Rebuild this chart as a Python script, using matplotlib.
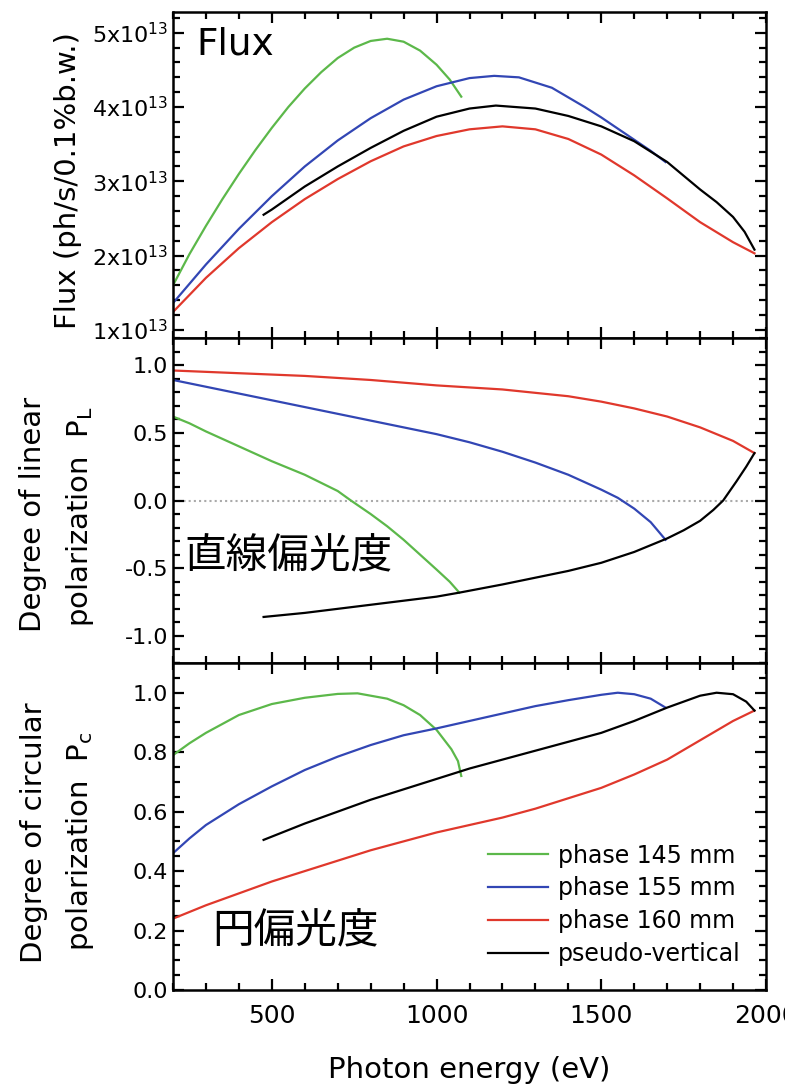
import numpy as np
import matplotlib
matplotlib.use('Agg')
from matplotlib import pyplot as plt
from matplotlib.ticker import MultipleLocator

# photon energy (eV) and values for each undulator setting
# flux in units of 1e13 ph/s/0.1%b.w.
e_145_f = [200, 250, 300, 350, 400, 450, 500, 550, 600, 650, 700, 750, 800,
           850, 900, 950, 1000, 1040, 1075]
flux_145 = [1.60, 2.02, 2.40, 2.76, 3.10, 3.42, 3.72, 4.00, 4.25, 4.47, 4.66,
            4.80, 4.89, 4.92, 4.88, 4.76, 4.57, 4.37, 4.14]

e_155_f = [200, 300, 400, 500, 600, 700, 800, 900, 1000, 1100, 1175, 1250,
           1350, 1450, 1500, 1550, 1600, 1650, 1695]
flux_155 = [1.36, 1.88, 2.36, 2.80, 3.20, 3.55, 3.85, 4.10, 4.28, 4.39, 4.42,
            4.40, 4.26, 4.00, 3.86, 3.71, 3.56, 3.41, 3.26]

e_160_f = [200, 300, 400, 500, 600, 700, 800, 900, 1000, 1100, 1200, 1300,
           1400, 1500, 1600, 1700, 1800, 1900, 1965]
flux_160 = [1.24, 1.70, 2.10, 2.45, 2.76, 3.03, 3.27, 3.47, 3.61, 3.70, 3.74,
            3.70, 3.57, 3.36, 3.08, 2.77, 2.45, 2.18, 2.03]

e_pv_f = [475, 500, 600, 700, 800, 900, 1000, 1100, 1180, 1300, 1400, 1500,
          1600, 1700, 1800, 1850, 1900, 1935, 1965]
flux_pv = [2.55, 2.62, 2.93, 3.20, 3.45, 3.68, 3.87, 3.98, 4.02, 3.98, 3.88,
           3.74, 3.54, 3.26, 2.89, 2.72, 2.52, 2.32, 2.08]

# degree of linear polarization
e_145_l = [200, 250, 300, 400, 500, 600, 700, 740, 800, 850, 900, 950, 1000,
           1040, 1069]
pl_145 = [0.62, 0.57, 0.51, 0.40, 0.29, 0.19, 0.07, 0.0, -0.10, -0.19,
          -0.29, -0.40, -0.51, -0.60, -0.68]

e_155_l = [200, 300, 400, 500, 600, 700, 800, 900, 1000, 1100, 1200, 1300,
           1400, 1500, 1550, 1600, 1650, 1695]
pl_155 = [0.89, 0.84, 0.79, 0.74, 0.69, 0.64, 0.59, 0.54, 0.49, 0.43, 0.36,
          0.28, 0.19, 0.08, 0.02, -0.06, -0.16, -0.29]

e_160_l = [200, 400, 600, 800, 1000, 1200, 1400, 1500, 1600, 1700, 1800,
           1850, 1900, 1965]
pl_160 = [0.96, 0.94, 0.92, 0.89, 0.85, 0.82, 0.77, 0.73, 0.68, 0.62, 0.54,
          0.49, 0.44, 0.35]

e_pv_l = [475, 600, 700, 800, 900, 1000, 1070, 1200, 1300, 1400, 1500, 1600,
          1700, 1750, 1800, 1840, 1870, 1910, 1940, 1965]
pl_pv = [-0.86, -0.83, -0.80, -0.77, -0.74, -0.71, -0.68, -0.62, -0.57,
         -0.52, -0.46, -0.38, -0.28, -0.22, -0.15, -0.07, 0.0, 0.14, 0.25,
         0.35]

# degree of circular polarization
e_145_c = [200, 250, 300, 400, 500, 600, 700, 760, 850, 900, 950, 1000, 1045,
           1065, 1075]
pc_145 = [0.79, 0.83, 0.865, 0.925, 0.962, 0.983, 0.996, 0.998, 0.98, 0.958,
          0.925, 0.875, 0.81, 0.77, 0.72]

e_155_c = [200, 250, 300, 400, 500, 600, 700, 800, 900, 1000, 1100, 1200,
           1300, 1400, 1500, 1550, 1600, 1650, 1695]
pc_155 = [0.46, 0.51, 0.555, 0.625, 0.685, 0.74, 0.785, 0.824, 0.857, 0.88,
          0.905, 0.93, 0.955, 0.975, 0.993, 1.0, 0.995, 0.98, 0.95]

e_160_c = [200, 300, 400, 500, 600, 700, 800, 900, 1000, 1100, 1200, 1300,
           1400, 1500, 1600, 1700, 1800, 1900, 1965]
pc_160 = [0.24, 0.285, 0.325, 0.365, 0.40, 0.435, 0.47, 0.50, 0.53, 0.555,
          0.58, 0.61, 0.645, 0.68, 0.725, 0.775, 0.84, 0.905, 0.94]

e_pv_c = [475, 600, 700, 800, 900, 1000, 1100, 1200, 1300, 1400, 1500, 1600,
          1700, 1750, 1800, 1850, 1900, 1940, 1965]
pc_pv = [0.505, 0.56, 0.60, 0.64, 0.675, 0.71, 0.745, 0.775, 0.805, 0.835,
         0.865, 0.905, 0.95, 0.97, 0.99, 1.0, 0.995, 0.97, 0.94]

labels = ['phase 145 mm', 'phase 155 mm', 'phase 160 mm', 'pseudo-vertical']
colors = ['#5cb84a', '#3246b4', '#e0382c', 'black']

flux_ticks = [1, 2, 3, 4, 5]

plt.rcParams['font.family'] = ['DejaVu Sans']
plt.rcParams['mathtext.default'] = 'regular'
plt.rcParams['axes.unicode_minus'] = False

W, H = 785, 1089
fig = plt.figure(figsize=(W / 100, H / 100), dpi=100)

x0, x1 = 173, 766
edges = [12, 338, 663, 990]
axes = []
for top, bot in zip(edges[:-1], edges[1:]):
    ax = fig.add_axes([x0 / W, 1 - bot / H, (x1 - x0) / W, (bot - top) / H])
    axes.append(ax)
ax1, ax2, ax3 = axes

flux = [(e_145_f, flux_145), (e_155_f, flux_155), (e_160_f, flux_160),
        (e_pv_f, flux_pv)]
lin = [(e_145_l, pl_145), (e_155_l, pl_155), (e_160_l, pl_160),
       (e_pv_l, pl_pv)]
circ = [(e_145_c, pc_145), (e_155_c, pc_155), (e_160_c, pc_160),
        (e_pv_c, pc_pv)]

for (ef, fl), (el, pl), (ec, pc), c, lab in zip(flux, lin, circ, colors, labels):
    ax1.plot(ef, np.array(fl) * 1e13, color=c, lw=1.6)
    ax2.plot(el, pl, color=c, lw=1.6)
    ax3.plot(ec, pc, color=c, lw=1.6, label=lab)

ax2.axhline(0, color='#aaaaaa', lw=1.5, ls=(0, (1, 1.5)), zorder=0)

for ax in axes:
    ax.set_xlim(200, 2000)
    ax.xaxis.set_major_locator(MultipleLocator(500))
    ax.xaxis.set_minor_locator(MultipleLocator(100))
    ax.tick_params(which='both', direction='in', top=True, right=True,
                   width=1.6)
    ax.tick_params(which='major', length=8)
    ax.tick_params(which='minor', length=5)
    ax.tick_params(axis='y', labelsize=16)
    ax.tick_params(axis='x', labelsize=18, pad=10)
    for s in ax.spines.values():
        s.set_linewidth(1.8)
    if ax is not ax3:
        ax.tick_params(labelbottom=False)

ax1.set_ylim(0.89e13, 5.28e13)
ax1.set_yticks([v * 1e13 for v in flux_ticks])
ax1.set_yticklabels([r'$%dx10^{13}$' % v for v in flux_ticks])
ax1.yaxis.set_minor_locator(MultipleLocator(0.2e13))

ax2.set_ylim(-1.2, 1.2)
ax2.yaxis.set_major_locator(MultipleLocator(0.5))
ax2.yaxis.set_minor_locator(MultipleLocator(0.1))
ax2.yaxis.set_major_formatter('{x:.1f}')

ax3.set_ylim(0, 1.1)
ax3.yaxis.set_major_locator(MultipleLocator(0.2))
ax3.yaxis.set_minor_locator(MultipleLocator(0.05))
ax3.yaxis.set_major_formatter('{x:.1f}')

ax3.set_xlabel('Photon energy (eV)', fontsize=21, labelpad=20)

# y labels
fig.text(68 / W, 1 - 181 / H, 'Flux (ph/s/0.1%b.w.)', rotation=90,
         ha='center', va='center', fontsize=21)
fig.text(33 / W, 1 - 514 / H, 'Degree of linear', rotation=90,
         ha='center', va='center', fontsize=21)
fig.text(80 / W, 1 - 517 / H, r'polarization  $P_L$', rotation=90,
         ha='center', va='center', fontsize=21)
fig.text(34 / W, 1 - 833 / H, 'Degree of circular', rotation=90,
         ha='center', va='center', fontsize=21)
fig.text(80 / W, 1 - 841 / H, r'polarization  $P_c$', rotation=90,
         ha='center', va='center', fontsize=21)

# panel titles
ax1.text(0.04, 0.955, 'Flux', transform=ax1.transAxes, fontsize=27,
         ha='left', va='top')
ax2.text(0.02, 0.326, '直線偏光度', transform=ax2.transAxes, fontsize=30,
         ha='left', va='center', family=['Noto Sans CJK JP', 'DejaVu Sans'])
ax3.text(0.067, 0.177, '円偏光度', transform=ax3.transAxes, fontsize=30,
         ha='left', va='center', family=['Noto Sans CJK JP', 'DejaVu Sans'])

ax3.legend(loc='upper left', bbox_to_anchor=(0.531, 0.448), frameon=False,
           fontsize=17, handlelength=2.55, handletextpad=0.42,
           labelspacing=0.38, borderpad=0, borderaxespad=0)

fig.savefig('out.png', dpi=100)
